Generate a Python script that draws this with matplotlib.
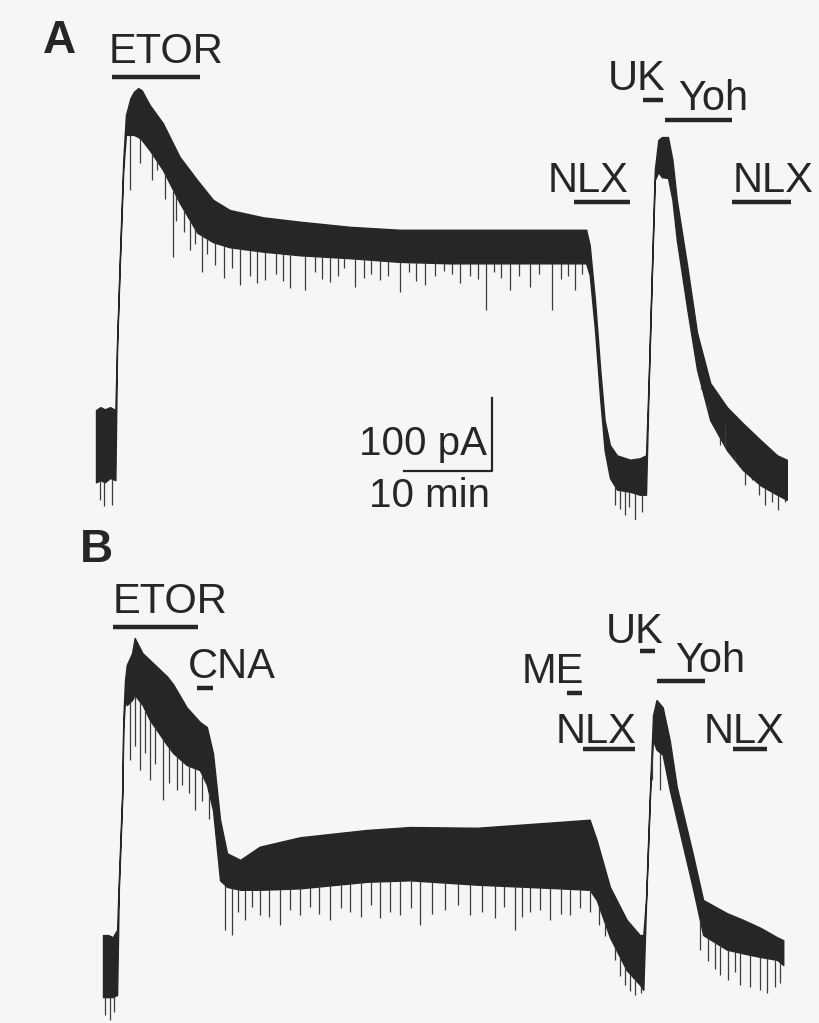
import numpy as np
import matplotlib
matplotlib.use("Agg")
import matplotlib.pyplot as plt

plt.rcParams['font.family'] = ['Liberation Sans', 'DejaVu Sans']

# ---- data (time in min, current in pA) ----
# panel A: envelope of the noisy current band
a_t = [0.0, 0.5, 1.0, 1.6, 2.2, 2.4, 2.7, 3.1, 3.4, 3.9, 4.3, 4.8, 5.2, 6.1, 7.6, 9.5,
       11.5, 13.3, 15.2, 19.0, 23.2, 28.9, 34.5, 40.2, 45.9, 51.6, 55.7, 56.1, 56.7,
       57.3, 57.8, 58.4, 59.2, 60.7, 61.8, 62.5, 62.8, 63.2, 63.5, 63.9, 64.3, 65.0,
       65.5, 66.0, 67.2, 68.3, 69.8, 71.7, 73.5, 75.5, 77.4, 78.5]
a_upper = [41, 45, 42, 45, 41, 137, 247, 384, 445, 468, 477, 482, 479, 459, 434, 388,
           356, 329, 315, 305, 299, 292, 288, 288, 288, 288, 288, 267, 192,
           96, 27, -7, -21, -27, -25, -21, 82, 247, 370, 411, 415, 415,
           384, 329, 237, 147, 78, 45, 23, 0, -21, -27]
a_lower = [-58, -55, -58, -52, -55, 130, 238, 370, 418, 418, 418, 415, 411, 397, 370, 325,
           284, 271, 264, 258, 253, 249, 244, 242, 242, 242, 242, 226, 151,
           55, -14, -52, -68, -71, -75, -75, 74, 238, 356, 367, 360, 359,
           329, 274, 178, 96, 27, -14, -41, -62, -75, -82]
# downward noise spikes in panel A
a_spike_t = [0.5, 0.9, 1.8, 3.9, 6.4, 8.8, 10.7, 13.5, 16.4, 19.2, 22.0, 23.8, 26.6,
             29.4, 32.3, 34.5, 37.4, 41.4, 44.3, 47.0, 49.3, 51.8, 54.4, 59.0, 60.1,
             61.3, 62.0, 70.9, 73.8, 76.0, 77.5, 78.3,
             5.0, 6.9, 7.8, 9.1, 10.0, 11.2, 12.0, 12.6, 14.5, 15.5, 17.5, 18.3, 20.5,
             21.2, 24.9, 25.7, 27.5, 28.2, 30.5, 31.3, 33.2, 35.6, 36.4, 38.5, 39.6,
             40.5, 42.5, 43.4, 45.2, 46.0, 48.1, 50.3, 52.8, 53.6, 55.2, 59.6, 60.6,
             68.8, 69.5, 71.5, 72.6, 74.5, 75.3, 76.8]
a_spike_v = [-82, -90, -89, 342, 356, 251, 260, 240, 212, 219, 208, 205, 216,
             210, 219, 203, 212, 215, 178, 205, 210, 178, 205, -89, -103,
             -110, -99, -7, -62, -89, -96, -85,
             380, 370, 330, 300, 285, 268, 230, 255, 222, 235, 225, 215, 228,
             218, 230, 220, 225, 235, 222, 228, 225, 230, 218, 225, 232,
             228, 225, 220, 230, 222, 225, 228, 220, 225, 228, -95, -92,
             70, 50, 20, -20, -55, -75, -85]

# panel B
b_t = [0.0, 0.6, 1.1, 1.6, 1.8, 2.2, 2.3, 2.5, 2.7, 3.3, 3.6, 4.5, 5.3, 7.3, 8.0, 9.5,
       11.0, 11.8, 12.5, 13.3, 14.1, 15.6, 17.8, 22.4, 30.0, 34.9, 42.5, 51.9, 55.3,
       56.1, 57.6, 59.5, 61.0, 61.4, 61.7, 62.2, 62.5, 62.9, 63.6, 64.4, 65.2, 67.0,
       68.2, 70.9, 72.7, 74.7, 76.6, 77.3]
b_upper = [41, 41, 38, 48, 116, 244, 336, 390, 411, 427, 448, 427, 418, 395, 384, 353,
           333, 326, 290, 199, 153, 144, 162, 175, 185, 189, 188, 196, 199,
           171, 107, 62, 41, 41, 89, 253, 342, 363, 353, 308, 244, 153,
           89, 71, 62, 51, 38, 34]
b_lower = [-44, -44, -44, -41, 103, 233, 322, 363, 356, 363, 370, 356, 336, 301, 290, 274,
           267, 247, 212, 116, 107, 103, 103, 105, 114, 116, 110, 105, 103,
           89, 38, -7, -27, -34, 81, 245, 308, 295, 288, 240, 199, 107,
           41, 21, 16, 11, 7, 0]
b_spike_t = [0.2, 0.8, 1.3, 3.1, 4.2, 5.3, 6.8, 9.0, 10.5, 13.9, 14.7, 16.1, 17.8, 20.1,
             22.4, 25.8, 28.1, 31.5, 33.8, 36.0, 38.9, 41.7, 44.5, 46.8, 48.5, 50.8,
             53.1, 56.4, 58.2, 59.3, 60.5, 61.1, 62.4, 63.3, 67.8, 70.1, 72.4, 74.7, 76.4,
             3.6, 4.8, 5.9, 7.5, 8.4, 9.8, 11.3, 12.0, 15.3, 16.9, 18.9, 21.2, 23.5,
             24.6, 27.0, 29.3, 30.5, 32.6, 35.0, 37.4, 40.3, 43.1, 45.6, 47.6, 49.7,
             52.0, 54.2, 55.3, 57.0, 58.8, 59.9, 68.8, 69.5, 71.0, 71.8, 73.5, 75.5, 76.9]
b_spike_v = [-68, -75, -64, 281, 267, 253, 226, 247, 212, 48, 41, 62, 68, 55,
             68, 62, 73, 64, 68, 55, 75, 68, 64, 48, 73, 62,
             68, 55, 7, -27, -41, -38, 253, 240, 21, -14, -27, -34, -30,
             300, 290, 275, 250, 240, 235, 225, 200, 72, 80, 66, 75, 80,
             70, 78, 66, 82, 72, 78, 70, 82, 72, 80, 66, 76,
             70, 78, 72, 40, -15, -35, 5, -5, -20, -10, -30, -38, -25]

# drug applications: name, on (min), off (min)
a_drugs = [("ETOR", 1.8, 11.8), ("NLX", 54.3, 60.7), ("UK", 62.2, 64.4),
           ("Yoh", 64.7, 72.3), ("NLX", 72.3, 79.0)]
b_drugs = [("ETOR", 1.1, 10.8), ("CNA", 10.7, 12.5), ("ME", 52.7, 54.4),
           ("NLX", 54.5, 60.5), ("UK", 61.0, 62.7), ("Yoh", 63.0, 68.4),
           ("NLX", 71.6, 75.5)]

# ---- layout (pixel scale of the original figure) ----
PX_MIN = 8.8    # px per minute
PX_PA = 0.73    # px per pA
W, H = 819, 1023
INK = '#262626'

# bar heights (pA) and label anchors (t, pA) for each drug, same order as above
a_bar_y = [497, 326, 466, 438, 326]
a_lab = [(1.4, 516), (51.3, 340), (58.1, 479), (66.1, 452), (72.4, 340)]
b_bar_y = [463, 379, 373, 296, 430, 389, 296]
b_lab = [(1.1, 482), (9.7, 393), (47.6, 386), (51.4, 304), (57.1, 441), (65.0, 401), (68.2, 304)]

fig = plt.figure(figsize=(W / 100, H / 100), dpi=100, facecolor='#f6f6f5')


def make_axes(top, bottom, x0, y0):
    # axes spanning pixel rows top..bottom, origin (t=0, I=0) at pixel (x0, y0)
    ax = fig.add_axes([0, 1 - bottom / H, 1, (bottom - top) / H])
    ax.set_xlim(-x0 / PX_MIN, (W - x0) / PX_MIN)
    ax.set_ylim((y0 - bottom) / PX_PA, (y0 - top) / PX_PA)
    ax.axis('off')
    return ax


def draw_trace(ax, t, upper, lower, spike_t, spike_v):
    ax.fill_between(t, lower, upper, color=INK, lw=1.0)
    base = np.interp(spike_t, t, lower)
    ax.vlines(spike_t, spike_v, base, color='#3c3c3c', lw=0.9)


def draw_drugs(ax, drugs, bar_y, labels):
    for (name, on, off), y, (lx, ly) in zip(drugs, bar_y, labels):
        ax.plot([on, off], [y, y], color=INK, lw=3.2, solid_capstyle='butt')
        ax.text(lx, ly, name, fontsize=30, color=INK, ha='left', va='baseline')


ax_a = make_axes(0, 520, 96, 440)
draw_trace(ax_a, a_t, a_upper, a_lower, a_spike_t, a_spike_v)
draw_drugs(ax_a, a_drugs, a_bar_y, a_lab)
ax_a.text(-6.0, 530, 'A', fontsize=33, fontweight='bold', color=INK, va='baseline')

# scale bar: 100 pA / 10 min
ax_a.plot([35, 45, 45], [-42.5, -42.5, 57.5], color=INK, lw=1.6)
ax_a.text(44.4, -20, '100 pA', fontsize=29, color=INK, ha='right', va='baseline')
ax_a.text(31.0, -92, '10 min', fontsize=29, color=INK, ha='left', va='baseline')

ax_b = make_axes(520, 1023, 103, 965)
draw_trace(ax_b, b_t, b_upper, b_lower, b_spike_t, b_spike_v)
draw_drugs(ax_b, b_drugs, b_bar_y, b_lab)
ax_b.text(-2.6, 552, 'B', fontsize=33, fontweight='bold', color=INK, va='baseline')

fig.savefig('out.png', dpi=100, facecolor=fig.get_facecolor())
